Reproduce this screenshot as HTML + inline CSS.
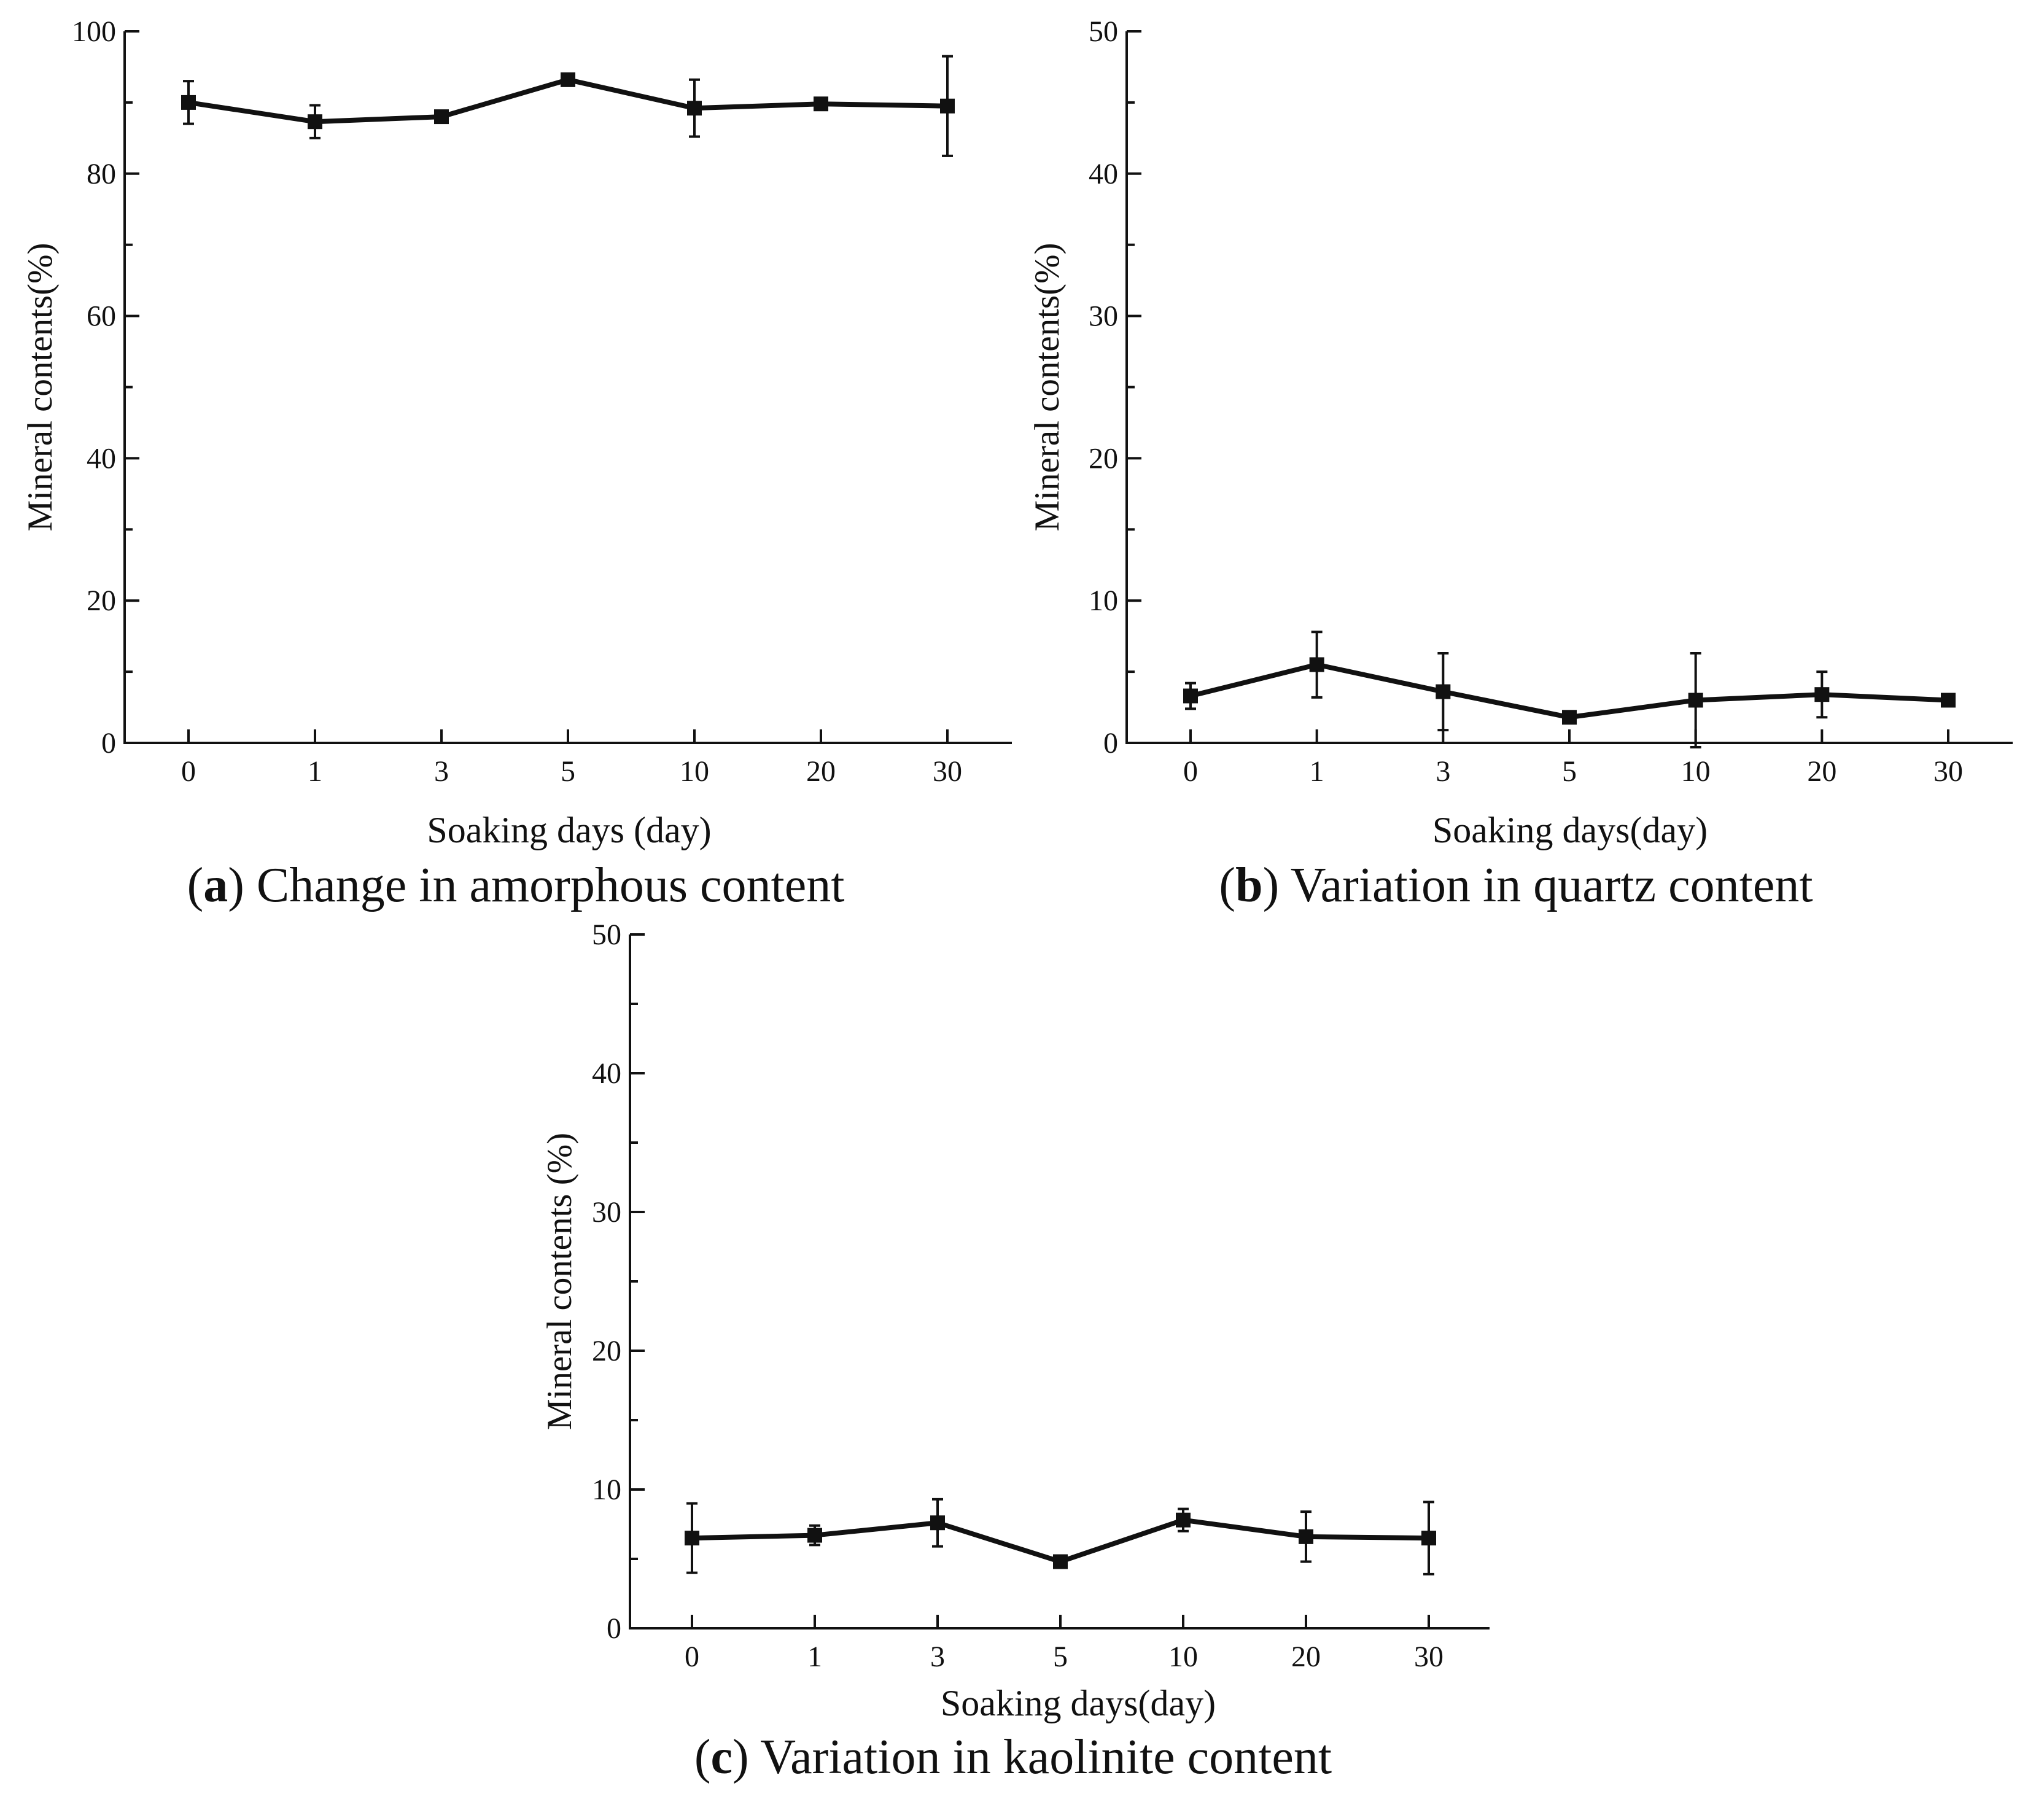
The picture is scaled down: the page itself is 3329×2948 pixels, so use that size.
<!DOCTYPE html>
<html><head><meta charset="utf-8"><style>
html,body{margin:0;padding:0;background:#fff;}
svg{display:block;}
text{font-family:"Liberation Serif",serif;fill:#111;}
</style></head><body>
<svg id="fig" width="3329" height="2948" viewBox="0 0 3329 2948" xmlns="http://www.w3.org/2000/svg"></svg>
<script>
const categories = ["0","1","3","5","10","20","30"];
const amorphousValues = [90.0, 87.3, 88.0, 93.2, 89.2, 89.8, 89.5];
const amorphousErrors = [3.0, 2.3, 0.5, 0.5, 4.0, 0.5, 7.0];
const quartzValues = [3.3, 5.5, 3.6, 1.8, 3.0, 3.4, 3.0];
const quartzErrors = [0.9, 2.3, 2.7, 0.2, 3.3, 1.6, 0.3];
const kaoliniteValues = [6.5, 6.7, 7.6, 4.8, 7.8, 6.6, 6.5];
const kaoliniteErrors = [2.5, 0.7, 1.7, 0.2, 0.8, 1.8, 2.6];
const ticksA = [0,20,40,60,80,100];
const ticksBC = [0,10,20,30,40,50];

const NS="http://www.w3.org/2000/svg";
const svg=document.getElementById('fig');
function mk(tag,attrs,parent){const e=document.createElementNS(NS,tag);for(const k in attrs)e.setAttribute(k,attrs[k]);(parent||svg).appendChild(e);return e;}

function panel(p){
  const g=mk('g',{});
  
  
  const ymax=p.ticks[p.ticks.length-1];
  const yS=v=>p.bottom-(v/ymax)*(p.bottom-p.top);
  const xS=i=>p.x0+i*(p.x30-p.x0)/(categories.length-1);
  const ax=mk('path',{d:`M${p.left},${p.top} L${p.left},${p.bottom} L${p.right},${p.bottom}`,fill:'none',stroke:'#111','stroke-width':4},g);
  
  
  for(let k=0;k<p.ticks.length;k++){
    const v=p.ticks[k], y=yS(v);
    mk('line',{x1:p.left,y1:y,x2:p.left+24,y2:y,stroke:'#111','stroke-width':4},g);
    const t=mk('text',{x:p.left-14,y:y+16,'text-anchor':'end','font-size':48},g);
    t.textContent=v;
    
    
    if(k<p.ticks.length-1){
      const ym=yS((v+p.ticks[k+1])/2);
      mk('line',{x1:p.left,y1:ym,x2:p.left+13,y2:ym,stroke:'#111','stroke-width':4},g);
    }
  }
  categories.forEach((c,i)=>{
    const x=xS(i);
    mk('line',{x1:x,y1:p.bottom,x2:x,y2:p.bottom-22,stroke:'#111','stroke-width':4},g);
    const t=mk('text',{x:x,y:p.bottom+62,'text-anchor':'middle','font-size':48},g);
    t.textContent=c;
    
    
  });
  p.vals.forEach((v,i)=>{
    const x=xS(i), y1=yS(v+p.errs[i]), y2=yS(v-p.errs[i]);
    const e=mk('path',{d:`M${x},${y1} L${x},${y2} M${x-9},${y1} L${x+9},${y1} M${x-9},${y2} L${x+9},${y2}`,stroke:'#111','stroke-width':4,fill:'none'},g);
    
    
  });
  const ln=mk('polyline',{points:p.vals.map((v,i)=>xS(i)+','+yS(v)).join(' '),fill:'none',stroke:'#111','stroke-width':8,'stroke-linejoin':'round'},g);
  
  
  p.vals.forEach((v,i)=>{
    const r=mk('rect',{x:xS(i)-12,y:yS(v)-12,width:24,height:24,fill:'#111'},g);
    
    
  });
  const yt=mk('text',{x:0,y:0,'text-anchor':'middle','font-size':57,transform:`translate(${p.ytx},${(p.top+p.bottom)/2}) rotate(-90)`},g);
  yt.textContent=p.ytitle;
  
  
  const xt=mk('text',{x:p.xtx,y:p.xty,'text-anchor':'middle','font-size':60},g);
  xt.textContent=p.xtitle;
  
  
  const cap=mk('text',{x:p.capx,y:p.capy,'text-anchor':'middle','font-size':80},g);
  cap.innerHTML=`(<tspan font-weight="bold">${p.letter}</tspan>) ${p.caption}`;
  
  
}

panel({name:'panel-a-amorphous',left:203,right:1648,top:51,bottom:1210,x0:307,x30:1543,ticks:ticksA,vals:amorphousValues,errs:amorphousErrors,
  ytitle:'Mineral contents(%)',ytx:84,xtitle:'Soaking days (day)',xtx:927,xty:1372,letter:'a',caption:'Change in amorphous content',capx:840,capy:1468});
panel({name:'panel-b-quartz',left:1835,right:3278,top:51,bottom:1210,x0:1939,x30:3173,ticks:ticksBC,vals:quartzValues,errs:quartzErrors,
  ytitle:'Mineral contents(%)',ytx:1724,xtitle:'Soaking days(day)',xtx:2557,xty:1372,letter:'b',caption:'Variation in quartz content',capx:2469,capy:1468});
panel({name:'panel-c-kaolinite',left:1026,right:2426,top:1522,bottom:2652,x0:1127,x30:2327,ticks:ticksBC,vals:kaoliniteValues,errs:kaoliniteErrors,
  ytitle:'Mineral contents (%)',ytx:930,xtitle:'Soaking days(day)',xtx:1756,xty:2794,letter:'c',caption:'Variation in kaolinite content',capx:1650,capy:2888});
</script>
</body></html>
